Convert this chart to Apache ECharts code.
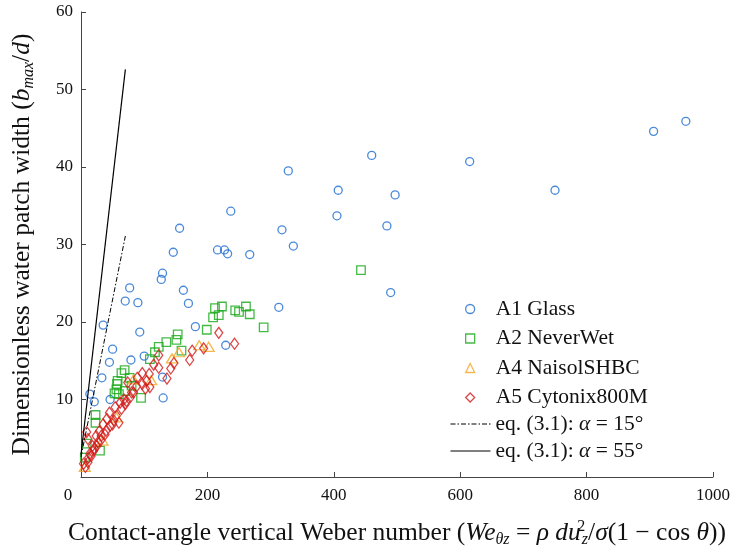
<!DOCTYPE html>
<html>
<head>
<meta charset="utf-8">
<script src="https://cdn.jsdelivr.net/npm/echarts@6/dist/echarts.min.js"></script>
<style>
  html, body { margin: 0; padding: 0; background: #fff; }
  #chart { width: 736px; height: 553px; }
</style>
</head>
<body>
<div id="chart"></div>
<script>
// values: [We_θz, b_max/d]
const glassData = [
  [957, 45.9], [906, 44.6], [750, 37.0], [615, 40.7], [460, 41.5], [497, 36.4], [484, 32.4], [490, 23.8],
  [407, 37.0], [405, 33.7], [328, 39.5], [336, 29.8], [318, 31.9], [313, 21.9], [237, 34.3], [267, 28.7],
  [216, 29.3], [227, 29.3], [232, 28.8], [156, 32.1], [146, 29.0], [162, 24.1], [170, 22.4], [129, 26.3],
  [127, 25.5], [77, 24.4], [70, 22.7], [90, 22.5], [181, 19.4], [229, 17.0], [93, 18.7], [35, 19.6],
  [50, 16.5], [45, 14.8], [79, 15.1], [100, 15.6], [33, 12.8], [129, 12.9], [130, 10.2], [14, 10.7],
  [21, 9.7], [46, 10.0]
];
const neverWetData = [
  [443, 26.7], [289, 19.3], [267, 21.0], [261, 22.0], [250, 21.3], [244, 21.5], [223, 22.0], [218, 20.9],
  [212, 21.8], [209, 20.6], [199, 19.0], [153, 18.4], [151, 17.7], [159, 16.3], [135, 17.4], [123, 16.8],
  [117, 16.1], [109, 15.2], [95, 10.2], [69, 13.8], [64, 13.4], [58, 12.4], [56, 11.3], [53, 10.8],
  [57, 12.0], [70, 11.1], [77, 12.8], [80, 11.8], [60, 10.7], [23, 8.0], [23, 7.0], [30, 3.4],
  [9, 4.3], [6, 2.5]
];
const naisolData = [
  [187, 17.0], [202, 16.8], [155, 16.1], [144, 15.3], [111, 12.5], [83, 12.6], [56, 7.7], [34, 4.7], [6, 1.3]
];
const cytonixData = [
  [4, 1.7], [7, 1.3], [9, 5.8], [11, 1.9], [11, 4.9], [12, 2.5], [14, 3.0], [16, 2.7], [18, 4.0], [20, 3.4],
  [21, 3.7], [24, 5.3], [25, 4.0], [27, 4.5], [29, 5.9], [31, 4.7], [32, 5.3], [35, 6.8], [38, 5.5], [40, 6.0],
  [41, 7.5], [45, 8.3], [46, 6.6], [50, 6.8], [52, 7.3], [54, 9.0], [56, 7.9], [60, 7.0], [62, 9.6], [64, 8.8],
  [68, 10.0], [70, 9.4], [72, 9.8], [74, 12.2], [78, 10.3], [80, 10.9], [83, 10.9], [88, 11.7], [89, 12.8],
  [97, 12.0], [97, 13.4], [102, 11.4], [104, 12.4], [108, 13.3], [109, 11.6], [115, 14.5], [123, 15.7],
  [123, 14.1], [136, 12.7], [142, 14.0], [147, 14.7], [172, 15.1], [176, 16.3], [194, 16.6], [218, 18.6],
  [243, 17.2]
];
// eq. (3.1) lines, end points
const eq15 = [[0, 2.6], [70.2, 31.1]];
const eq55 = [[0, 2.9], [70.2, 52.6]];

const xMin = 0, xMax = 1000, xStep = 200;
const yMin = 0, yMax = 60, yStep = 10;

const markerNames = ['A1 Glass', 'A2 NeverWet', 'A4 NaisolSHBC', 'A5 Cytonix800M'];
const lineNames = ['eq. (3.1): α = 15°', 'eq. (3.1): α = 55°'];

const serif = 'Liberation Serif';
const ink = '#111';
const axisCol = '#444';

const mathRich = {
  n: { fontFamily: serif, fontSize: 25.5, color: ink, verticalAlign: 'middle' },
  i: { fontFamily: serif, fontSize: 25.5, color: ink, fontStyle: 'italic', verticalAlign: 'middle' },
  sub: { fontFamily: serif, fontSize: 16, color: ink, fontStyle: 'italic', padding: [13, 0, 0, 0], verticalAlign: 'middle' },
  sup: { fontFamily: serif, fontSize: 16, color: ink, padding: [0, 0, 13, 0], width: 1, verticalAlign: 'middle' }
};

const legendText = {
  fontFamily: serif, fontSize: 21.5, color: ink, lineHeight: 20,
  rich: {
    a: { fontFamily: serif, fontSize: 21.5, color: ink, fontStyle: 'italic' },
    t: { fontFamily: serif, fontSize: 21.5, color: ink },
    g: { width: 16 }
  }
};

const chart = echarts.init(document.getElementById('chart'));

function scatter(name, data, symbol, size, color) {
  return {
    name, type: 'scatter', data, symbol, symbolSize: size,
    itemStyle: { color: 'rgba(255,255,255,0)', borderColor: color, borderWidth: 1.3 },
    emphasis: { disabled: true }
  };
}

chart.setOption({
  animation: false,
  backgroundColor: '#fff',
  grid: { left: 81, right: 23, top: 12, bottom: 75 },
  xAxis: {
    type: 'value', min: xMin, max: xMax, interval: xStep,
    name: '{n|Contact-angle vertical Weber number (}{i|We}{sub|θz}{n| = }{i|ρ du}{sup|2}{sub|z}{n|/}{i|σ}{n|(1 − cos }{i|θ}{n|))}',
    nameLocation: 'middle', nameGap: 42,
    nameTextStyle: { rich: mathRich },
    axisLine: { lineStyle: { color: axisCol, width: 1 } },
    axisTick: { inside: true, length: 5, lineStyle: { color: axisCol } },
    axisLabel: {
      fontFamily: serif, fontSize: 17, color: ink, margin: 10,
      formatter: v => v === 0 ? '{z|0}' : String(v),
      rich: { z: { fontFamily: serif, fontSize: 17, color: ink, padding: [0, 26, 0, 0] } }
    },
    splitLine: { show: false }
  },
  yAxis: {
    type: 'value', min: yMin, max: yMax, interval: yStep,
    name: '{n|Dimensionless water patch width (}{i|b}{sub|max}{n|/}{i|d}{n|)}',
    nameLocation: 'middle', nameGap: 44, nameRotate: 90,
    nameTextStyle: { rich: mathRich },
    axisLine: { show: true, lineStyle: { color: axisCol, width: 1 } },
    axisTick: { show: true, inside: true, length: 5, lineStyle: { color: axisCol } },
    axisLabel: {
      fontFamily: serif, fontSize: 17, color: ink, margin: 8,
      formatter: v => v === 0 ? '' : String(v)
    },
    splitLine: { show: false }
  },
  legend: [
    {
      data: markerNames,
      orient: 'vertical', left: 460, top: 293,
      itemWidth: 9, itemHeight: 9, itemGap: 7.5,
      itemStyle: { borderWidth: 1.3 },
      textStyle: legendText,
      formatter: name => '{g| }{t|' + name + '}',
      selectedMode: false
    },
    {
      data: lineNames.map(name => ({ name, itemStyle: { opacity: 0 } })),
      orient: 'vertical', left: 445, top: 408,
      itemWidth: 40, itemHeight: 9, itemGap: 5,
      lineStyle: { width: 1 },
      textStyle: legendText,
      formatter: name => '{t|' + name.replace('α', '}{a|α}{t|') + '}',
      selectedMode: false
    }
  ],
  series: [
    scatter(markerNames[0], glassData, 'circle', 8, '#1b6cd0'),
    scatter(markerNames[1], neverWetData, 'rect', 8.5, '#16a816'),
    scatter(markerNames[2], naisolData, 'triangle', [11, 9], '#f2a521'),
    scatter(markerNames[3], cytonixData, 'diamond', [8, 11], '#d21a1a'),
    {
      name: lineNames[0], type: 'line', data: eq15, symbol: 'none',
      lineStyle: { color: '#000', width: 1, type: [5, 2, 1.5, 2] }, itemStyle: { color: '#000' }
    },
    {
      name: lineNames[1], type: 'line', data: eq55, symbol: 'none',
      lineStyle: { color: '#000', width: 1.2 }, itemStyle: { color: '#000' }
    }
  ]
});
</script>
</body>
</html>
